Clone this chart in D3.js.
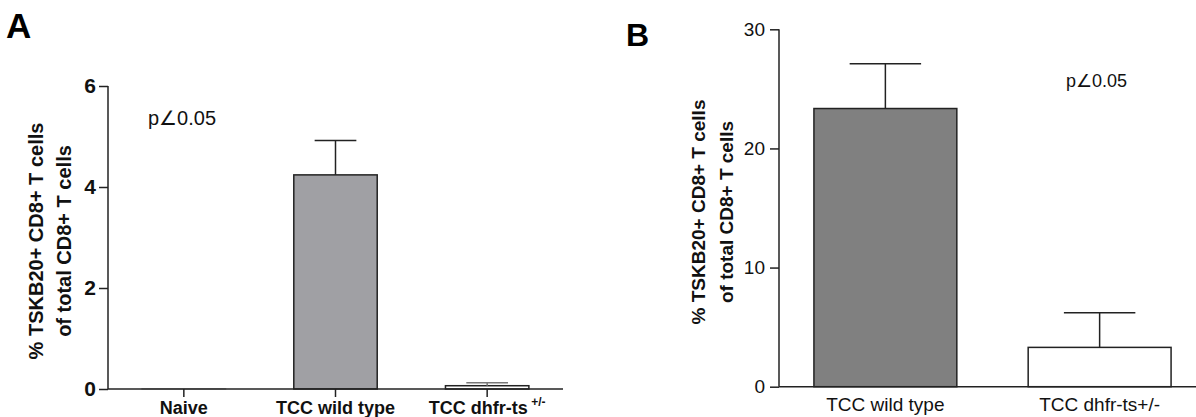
<!DOCTYPE html>
<html><head><meta charset="utf-8">
<script src="https://cdn.jsdelivr.net/npm/d3@7"></script>
<style>body{margin:0;background:#fff}svg{display:block;font-family:"Liberation Sans",Arial,sans-serif}</style>
</head><body>
<svg id="c" width="1196" height="417"></svg>
<script>
// Panel A data
const catsA = ["Naive", "TCC wild type", "TCC dhfr-ts"];
const meanA = [0.005, 4.24, 0.065];
const errA = [0, 0.68, 0.06];
const ticksA = [0, 2, 4, 6];
// Panel B data
const catsB = ["TCC wild type", "TCC dhfr-ts+/-"];
const meanB = [23.35, 3.3];
const errB = [3.75, 2.9];
const ticksB = [0, 10, 20, 30];
const yLabel1 = "% TSKB20+ CD8+ T cells";
const yLabel2 = "of total CD8+ T cells";
const pText = "p\u22200.05";

const svg = d3.select("#c");

// ---------- Panel A ----------
const xA = d3.scaleBand().domain(catsA).range([108, 563]).paddingInner(0.45).paddingOuter(0.225);
const yA = d3.scaleLinear().domain([0, 6]).range([389, 86]);
const fillA = ["#a0a0a4", "#a0a0a4", "#ffffff"];
const gA = svg.append("g");

gA.selectAll("rect.bar").data(catsA).join("rect")
  .attr("x", d => xA(d)).attr("width", xA.bandwidth())
  .attr("y", (d,i) => yA(meanA[i])).attr("height", (d,i) => yA(0) - yA(meanA[i]))
  .attr("fill", (d,i) => fillA[i])
  .attr("stroke", (d,i) => i === 0 ? "#aaa" : "#222").attr("stroke-width", 1.5);

catsA.forEach((c, i) => {
  if (errA[i] <= 0) return;
  const cx = xA(c) + xA.bandwidth() / 2, hw = xA.bandwidth() / 4;
  gA.append("line").attr("x1", cx).attr("x2", cx).attr("y1", yA(meanA[i])).attr("y2", yA(meanA[i] + errA[i]))
    .attr("stroke", i === 2 ? "#777" : "#222").attr("stroke-width", 1.5);
  gA.append("line").attr("x1", cx - hw).attr("x2", cx + hw).attr("y1", yA(meanA[i] + errA[i])).attr("y2", yA(meanA[i] + errA[i]))
    .attr("stroke", i === 2 ? "#777" : "#222").attr("stroke-width", 1.5);
});

const axAy = gA.append("g").attr("transform", "translate(108,0)")
  .call(d3.axisLeft(yA).tickValues(ticksA).tickSize(9).tickPadding(3).tickFormat(d3.format("d")));
axAy.select(".domain").attr("stroke", "#222").attr("stroke-width", 1.5).attr("d", "M0,86V389");
axAy.selectAll(".tick line").attr("stroke", "#222").attr("stroke-width", 1.5);
axAy.selectAll(".tick text").attr("font-size", 21).attr("font-weight", "bold").attr("fill", "#111")
  .attr("font-family", "Liberation Sans, Arial, sans-serif");

const axAx = gA.append("g").attr("transform", "translate(0,389)")
  .call(d3.axisBottom(xA).tickSize(8).tickFormat(""));
axAx.select(".domain").attr("stroke", "#222").attr("stroke-width", 1.5).attr("d", "M108,0H563");
axAx.selectAll(".tick line").attr("stroke", "#222").attr("stroke-width", 1.5);

catsA.forEach((c, i) => {
  const t = gA.append("text").attr("x", xA(c) + xA.bandwidth() / 2).attr("y", 414)
    .attr("text-anchor", "middle").attr("font-size", 18).attr("font-weight", "bold").attr("fill", "#111").text(c);
  if (i === 2) t.append("tspan").attr("dy", -8).attr("font-size", 12).text(" +/-");
});

gA.append("text").attr("transform", "translate(43,241) rotate(-90)").attr("text-anchor", "middle")
  .attr("font-size", 20).attr("font-weight", "bold").attr("fill", "#111").text(yLabel1);
gA.append("text").attr("transform", "translate(71,241) rotate(-90)").attr("text-anchor", "middle")
  .attr("font-size", 20).attr("font-weight", "bold").attr("fill", "#111").text(yLabel2);
gA.append("text").attr("x", 148).attr("y", 125).attr("font-size", 20).attr("fill", "#111").text(pText);
svg.append("text").attr("x", 6).attr("y", 38).attr("font-size", 35).attr("font-weight", "bold").attr("fill", "#000").text("A");

// ---------- Panel B ----------
const xB = d3.scaleBand().domain(catsB).range([779, 1206]).paddingInner(0.333).paddingOuter(0.163);
const yB = d3.scaleLinear().domain([0, 30]).range([386.7, 29.3]);
const fillB = ["#808080", "#ffffff"];
const gB = svg.append("g");

gB.selectAll("rect.bar").data(catsB).join("rect")
  .attr("x", d => xB(d)).attr("width", xB.bandwidth())
  .attr("y", (d,i) => yB(meanB[i])).attr("height", (d,i) => yB(0) - yB(meanB[i]))
  .attr("fill", (d,i) => fillB[i]).attr("stroke", "#222").attr("stroke-width", 1.5);

catsB.forEach((c, i) => {
  const cx = xB(c) + xB.bandwidth() / 2, hw = xB.bandwidth() / 4;
  gB.append("line").attr("x1", cx).attr("x2", cx).attr("y1", yB(meanB[i])).attr("y2", yB(meanB[i] + errB[i]))
    .attr("stroke", "#222").attr("stroke-width", 1.5);
  gB.append("line").attr("x1", cx - hw).attr("x2", cx + hw).attr("y1", yB(meanB[i] + errB[i])).attr("y2", yB(meanB[i] + errB[i]))
    .attr("stroke", "#222").attr("stroke-width", 1.5);
});

const axBy = gB.append("g").attr("transform", "translate(779,0)")
  .call(d3.axisLeft(yB).tickValues(ticksB).tickSize(9).tickPadding(5).tickFormat(d3.format("d")));
axBy.select(".domain").attr("stroke", "#222").attr("stroke-width", 1.5).attr("d", "M0,29.3V386.7");
axBy.selectAll(".tick line").attr("stroke", "#222").attr("stroke-width", 1.5);
axBy.selectAll(".tick text").attr("font-size", 19).attr("fill", "#111")
  .attr("font-family", "Liberation Sans, Arial, sans-serif");

const axBx = gB.append("g").attr("transform", "translate(0,386.7)")
  .call(d3.axisBottom(xB).tickSize(0).tickFormat(""));
axBx.select(".domain").attr("stroke", "#222").attr("stroke-width", 1.5).attr("d", "M779,0H1196");

catsB.forEach((c) => {
  gB.append("text").attr("x", xB(c) + xB.bandwidth() / 2).attr("y", 411)
    .attr("text-anchor", "middle").attr("font-size", 19).attr("fill", "#111").text(c);
});

gB.append("text").attr("transform", "translate(705,212) rotate(-90)").attr("text-anchor", "middle")
  .attr("font-size", 19).attr("font-weight", "bold").attr("fill", "#111").text(yLabel1);
gB.append("text").attr("transform", "translate(733,212) rotate(-90)").attr("text-anchor", "middle")
  .attr("font-size", 19).attr("font-weight", "bold").attr("fill", "#111").text(yLabel2);
gB.append("text").attr("x", 1066).attr("y", 87).attr("font-size", 18).attr("fill", "#111").text(pText);
svg.append("text").attr("x", 626).attr("y", 46).attr("font-size", 32).attr("font-weight", "bold").attr("fill", "#000").text("B");
</script>
</body></html>
